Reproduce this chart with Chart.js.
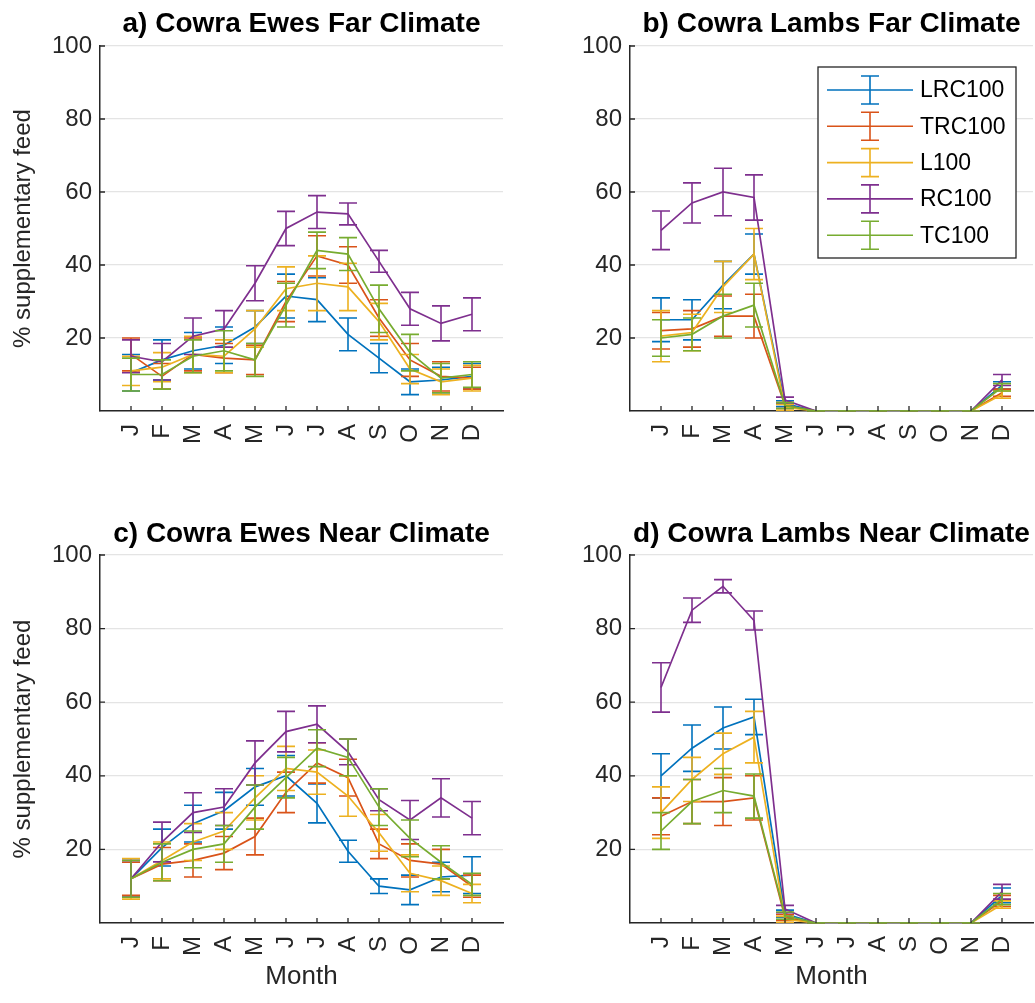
<!DOCTYPE html>
<html>
<head>
<meta charset="utf-8">
<script src="https://cdn.jsdelivr.net/npm/chart.js@4.4.1/dist/chart.umd.min.js"></script>
<style>
html,body{margin:0;padding:0;background:#fff;}
#wrap{position:relative;width:1035px;height:1003px;overflow:hidden;}
.panel{position:absolute;}
canvas{display:block;}
</style>
</head>
<body>
<div id="wrap">
  <div class="panel" style="left:0;top:0;"><canvas id="ca" width="517" height="500"></canvas></div>
  <div class="panel" style="left:517px;top:0;"><canvas id="cb" width="518" height="500"></canvas></div>
  <div class="panel" style="left:0;top:500px;"><canvas id="cc" width="517" height="503"></canvas></div>
  <div class="panel" style="left:517px;top:500px;"><canvas id="cd" width="518" height="503"></canvas></div>
</div>
<script>
// ---------------- DATA ----------------
const months = ['J','F','M','A','M','J','J','A','S','O','N','D'];
const seriesNames = ['LRC100','TRC100','L100','RC100','TC100'];
const yTickValues = [20, 40, 60, 80, 100];

// a) Cowra Ewes Far Climate
const ewesFarLRC100    = [10.5, 14, 16.5, 18, 23, 31.5, 30.5, 21, 14.5, 8, 8.5, 9.5];
const ewesFarLRC100Err = [5, 5.5, 5, 5, 4.5, 6, 6, 4.5, 4, 3.5, 3.5, 3.5];
const ewesFarTRC100    = [15.5, 9.5, 15.5, 14.5, 14, 30, 42.5, 40, 25.5, 14, 9.5, 9];
const ewesFarTRC100Err = [4.5, 3.5, 4.5, 4, 4, 5.5, 5.5, 5, 5, 4.5, 4, 3];
const ewesFarL100      = [11, 12, 15.5, 15, 22.5, 33.5, 35, 34, 24.5, 11.5, 8, 9];
const ewesFarL100Err   = [4, 4, 5, 4.5, 5, 6, 7.5, 6.5, 5, 4, 3.5, 3.5];
const ewesFarRC100     = [15, 13.5, 20.5, 22.5, 35, 50, 54.5, 54, 41, 28, 24, 26.5];
const ewesFarRC100Err  = [4.5, 5, 5, 5, 4.8, 4.7, 4.5, 3, 3, 4.5, 4.8, 4.5];
const ewesFarTC100     = [10, 10, 15, 16.5, 14, 29, 44, 43, 28, 16, 9, 10];
const ewesFarTC100Err  = [4.5, 4, 4.5, 5.5, 4.5, 6, 5, 4.5, 6.5, 5, 4, 3.5];

// b) Cowra Lambs Far Climate
const lambsFarLRC100    = [25, 25, 34.5, 43, 2, 0, 0, 0, 0, 0, 0, 7];
const lambsFarLRC100Err = [6, 5.5, 6.5, 5.5, 0.8, 0, 0, 0, 0, 0, 0, 1];
const lambsFarTRC100    = [22, 22.5, 26, 26, 1.5, 0, 0, 0, 0, 0, 0, 5];
const lambsFarTRC100Err = [5, 5, 5.5, 6, 0.8, 0, 0, 0, 0, 0, 0, 1];
const lambsFarL100      = [20.5, 21.5, 34, 43, 1, 0, 0, 0, 0, 0, 0, 4.5];
const lambsFarL100Err   = [7, 5, 7, 7, 0.8, 0, 0, 0, 0, 0, 0, 1];
const lambsFarRC100     = [49.5, 57, 60, 58.5, 3, 0, 0, 0, 0, 0, 0, 8.5];
const lambsFarRC100Err  = [5.3, 5.5, 6.5, 6.2, 0.8, 0, 0, 0, 0, 0, 0, 1.5];
const lambsFarTC100     = [20, 21, 26, 29, 1.5, 0, 0, 0, 0, 0, 0, 6.5];
const lambsFarTC100Err  = [5, 4.5, 6, 6, 0.8, 0, 0, 0, 0, 0, 0, 1];

// c) Cowra Ewes Near Climate
const ewesNearLRC100    = [12, 20.5, 27, 30.5, 37, 40, 32.5, 19.5, 10, 9, 12.5, 13];
const ewesNearLRC100Err = [5, 5, 5, 5, 5, 5.5, 5.3, 3, 2, 4, 4, 5];
const ewesNearTRC100    = [12, 16, 17, 19, 23.5, 35.5, 43.5, 39.5, 21.5, 17, 16, 10];
const ewesNearTRC100Err = [4.5, 4.5, 4.5, 4.5, 5, 5.5, 5.5, 5, 4, 4.5, 4, 3];
const ewesNearL100      = [12, 17, 22, 25, 34, 42, 41, 34.5, 24.5, 13.5, 11.5, 8];
const ewesNearL100Err   = [5.5, 5, 5, 5, 6, 6, 6, 5.5, 5, 5, 4, 2.5];
const ewesNearRC100     = [12, 22, 30, 31.5, 43.5, 52, 54, 46.5, 33.5, 28, 34, 28.5];
const ewesNearRC100Err  = [5, 5.4, 5.4, 5, 6, 5.5, 5, 3.5, 3, 5.3, 5.2, 4.5];
const ewesNearTC100     = [12, 16.5, 20, 21.5, 31.5, 39.5, 47.5, 45, 31.5, 23, 16.5, 10.5];
const ewesNearTC100Err  = [5, 5, 5, 5, 6, 5.5, 5, 5, 5, 5, 4.5, 3];

// d) Cowra Lambs Near Climate
const lambsNearLRC100    = [40, 47.5, 53, 56, 2.5, 0, 0, 0, 0, 0, 0, 7.5];
const lambsNearLRC100Err = [6, 6.3, 5.7, 4.8, 1, 0, 0, 0, 0, 0, 0, 2];
const lambsNearTRC100    = [29, 33, 33, 34, 1.5, 0, 0, 0, 0, 0, 0, 6];
const lambsNearTRC100Err = [5, 6, 6.5, 6, 0.8, 0, 0, 0, 0, 0, 0, 1.5];
const lambsNearL100      = [30, 39, 46, 50.5, 1, 0, 0, 0, 0, 0, 0, 5];
const lambsNearL100Err   = [7, 6, 5.6, 7, 0.8, 0, 0, 0, 0, 0, 0, 1];
const lambsNearRC100     = [64, 85, 91.5, 82.2, 3.8, 0, 0, 0, 0, 0, 0, 8.5];
const lambsNearRC100Err  = [6.7, 3.3, 1.8, 2.6, 1, 0, 0, 0, 0, 0, 0, 2];
const lambsNearTC100     = [25, 33, 36, 34.5, 2, 0, 0, 0, 0, 0, 0, 6.5];
const lambsNearTC100Err  = [5, 6, 6, 6, 1, 0, 0, 0, 0, 0, 0, 1.5];

// ---------------- STYLE ----------------
const seriesColors = ['#0072BD', '#D95319', '#EDB120', '#7E2F8E', '#77AC30'];
const FONT = "'Liberation Sans', Arial, Helvetica, sans-serif";
const AXIS_COLOR = '#262626';
Chart.defaults.font.family = FONT;
Chart.defaults.color = AXIS_COLOR;

// error bars drawn through the chart's own scales
const errorBarPlugin = {
  id: 'errorBars',
  afterDatasetDraw(chart, args) {
    const ds = chart.data.datasets[args.index];
    if (!ds.errors) return;
    const {ctx} = chart;
    const xs = chart.scales.x, ys = chart.scales.y;
    ctx.save();
    ctx.strokeStyle = ds.borderColor;
    ctx.lineWidth = 1.6;
    const cap = 9;
    ds.data.forEach((p, i) => {
      const e = ds.errors[i];
      const px = xs.getPixelForValue(p.x);
      const yt = ys.getPixelForValue(p.y + e);
      const yb = ys.getPixelForValue(Math.max(p.y - e, 0));
      ctx.beginPath();
      ctx.moveTo(px, yt); ctx.lineTo(px, yb);
      ctx.moveTo(px - cap, yt); ctx.lineTo(px + cap, yt);
      ctx.moveTo(px - cap, yb); ctx.lineTo(px + cap, yb);
      ctx.stroke();
    });
    ctx.restore();
  }
};

// inward tick marks (MATLAB style)
const innerTicksPlugin = {
  id: 'innerTicks',
  afterDraw(chart) {
    const {ctx, chartArea} = chart;
    const xs = chart.scales.x, ys = chart.scales.y;
    ctx.save();
    ctx.strokeStyle = AXIS_COLOR;
    ctx.lineWidth = 1.3;
    ctx.beginPath();
    yTickValues.forEach(v => {
      const py = ys.getPixelForValue(v);
      ctx.moveTo(chartArea.left, py); ctx.lineTo(chartArea.left + 5, py);
    });
    months.forEach((m, i) => {
      const px = xs.getPixelForValue(i + 1);
      ctx.moveTo(px, chartArea.bottom); ctx.lineTo(px, chartArea.bottom - 5);
    });
    ctx.stroke();
    ctx.restore();
  }
};

// legend box inside panel b
const boxLegendPlugin = {
  id: 'boxLegend',
  afterDraw(chart, args, opts) {
    if (!opts || !opts.show) return;
    const {ctx} = chart;
    const {left, top, width, height, rowGap, lineLen, textX, font} = opts;
    ctx.save();
    ctx.fillStyle = '#ffffff';
    ctx.fillRect(left, top, width, height);
    ctx.strokeStyle = '#262626';
    ctx.lineWidth = 1.3;
    ctx.strokeRect(left, top, width, height);
    chart.data.datasets.forEach((ds, i) => {
      const cy = top + 23 + i * rowGap;
      const x0 = left + 9, x1 = left + 9 + lineLen, xm = (x0 + x1) / 2;
      ctx.strokeStyle = ds.borderColor;
      ctx.lineWidth = 1.6;
      ctx.beginPath();
      ctx.moveTo(x0, cy); ctx.lineTo(x1, cy);
      ctx.moveTo(xm, cy - 14); ctx.lineTo(xm, cy + 14);
      ctx.moveTo(xm - 9, cy - 14); ctx.lineTo(xm + 9, cy - 14);
      ctx.moveTo(xm - 9, cy + 14); ctx.lineTo(xm + 9, cy + 14);
      ctx.stroke();
      ctx.fillStyle = '#000';
      ctx.font = font;
      ctx.textBaseline = 'middle';
      ctx.textAlign = 'left';
      ctx.fillText(ds.label, left + textX, cy + 1);
    });
    ctx.restore();
  }
};

function makeDatasets(values, errors) {
  const order = [5, 4, 3, 2, 1];
  return seriesNames.map((name, k) => ({
    label: name,
    data: values[k].map((v, i) => ({x: i + 1, y: v})),
    errors: errors[k],
    borderColor: seriesColors[k],
    backgroundColor: seriesColors[k],
    borderWidth: 1.7,
    pointRadius: 0,
    tension: 0,
    order: order[k]
  }));
}

function makeChart(id, cfg) {
  const canvas = document.getElementById(id);
  const cw = canvas.width, ch = canvas.height;
  const tSize = 28, tLine = tSize * 1.2;
  const tTop = cfg.titleCenter - tLine / 2;
  return new Chart(canvas, {
    type: 'line',
    data: {datasets: makeDatasets(cfg.values, cfg.errors)},
    options: {
      responsive: false,
      animation: false,
      devicePixelRatio: 1,
      layout: {padding: {top: 0, left: 0, bottom: 0, right: cw - cfg.plotRight}},
      plugins: {
        legend: {display: false},
        tooltip: {enabled: false},
        title: {
          display: true, text: cfg.title, fullSize: false, color: '#000',
          font: {size: tSize, weight: 'bold', lineHeight: 1.2},
          padding: {top: tTop, bottom: cfg.plotTop - tLine - tTop}
        },
        boxLegend: cfg.legend || {show: false}
      },
      scales: {
        x: {
          type: 'linear', min: 0, max: 13,
          ticks: {
            stepSize: 1, autoSkip: false, minRotation: 90, maxRotation: 90, padding: 13,
            color: AXIS_COLOR, font: {size: 24},
            callback: v => months[v - 1] || ''
          },
          grid: {display: false, drawTicks: false},
          border: {display: true, color: AXIS_COLOR, width: 1.5},
          title: {display: !!cfg.showX, text: 'Month', color: AXIS_COLOR, font: {size: 26}, padding: {top: 0, bottom: 11}},
          afterFit: s => { s.height = ch - cfg.plotBottom; s.paddingLeft = 0; s.paddingRight = 0; }
        },
        y: {
          min: 0, max: 100,
          ticks: {
            stepSize: 20, padding: 8, color: AXIS_COLOR, font: {size: 24},
            callback: v => (v === 0 ? '' : v)
          },
          grid: {color: '#e4e4e4', lineWidth: 1.2, drawTicks: false},
          border: {display: true, color: AXIS_COLOR, width: 1.5},
          title: {display: !!cfg.showY, text: '% supplementary feed', color: AXIS_COLOR, font: {size: 24}, padding: {top: 9, bottom: 0}},
          afterFit: s => { s.width = cfg.plotLeft; s.paddingTop = 0; s.paddingBottom = 0; }
        }
      }
    },
    plugins: [errorBarPlugin, innerTicksPlugin, boxLegendPlugin]
  });
}

makeChart('ca', {
  title: 'a) Cowra Ewes Far Climate',
  values: [ewesFarLRC100, ewesFarTRC100, ewesFarL100, ewesFarRC100, ewesFarTC100],
  errors: [ewesFarLRC100Err, ewesFarTRC100Err, ewesFarL100Err, ewesFarRC100Err, ewesFarTC100Err],
  plotLeft: 100, plotRight: 503, plotTop: 46, plotBottom: 411, titleCenter: 24, showY: true
});
makeChart('cb', {
  title: 'b) Cowra Lambs Far Climate',
  values: [lambsFarLRC100, lambsFarTRC100, lambsFarL100, lambsFarRC100, lambsFarTC100],
  errors: [lambsFarLRC100Err, lambsFarTRC100Err, lambsFarL100Err, lambsFarRC100Err, lambsFarTC100Err],
  plotLeft: 113, plotRight: 516, plotTop: 46, plotBottom: 411, titleCenter: 24,
  legend: {show: true, left: 301, top: 67, width: 198, height: 191, rowGap: 36.3, lineLen: 86, textX: 102, font: "23px 'Liberation Sans', Arial, sans-serif"}
});
makeChart('cc', {
  title: 'c) Cowra Ewes Near Climate',
  values: [ewesNearLRC100, ewesNearTRC100, ewesNearL100, ewesNearRC100, ewesNearTC100],
  errors: [ewesNearLRC100Err, ewesNearTRC100Err, ewesNearL100Err, ewesNearRC100Err, ewesNearTC100Err],
  plotLeft: 100, plotRight: 503, plotTop: 55, plotBottom: 423, titleCenter: 34, showY: true, showX: true
});
makeChart('cd', {
  title: 'd) Cowra Lambs Near Climate',
  values: [lambsNearLRC100, lambsNearTRC100, lambsNearL100, lambsNearRC100, lambsNearTC100],
  errors: [lambsNearLRC100Err, lambsNearTRC100Err, lambsNearL100Err, lambsNearRC100Err, lambsNearTC100Err],
  plotLeft: 113, plotRight: 516, plotTop: 55, plotBottom: 423, titleCenter: 34, showX: true
});
</script>
</body>
</html>
